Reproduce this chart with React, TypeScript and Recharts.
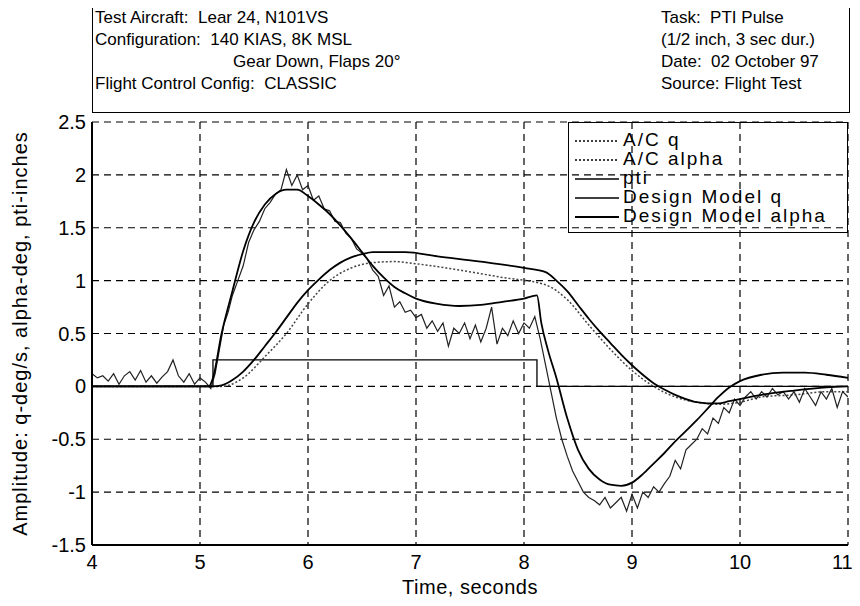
import { LineChart, Line, XAxis, YAxis, CartesianGrid } from 'recharts'

const xTicks = [4, 5, 6, 7, 8, 9, 10, 11]
const yTicks = [-1.5, -1, -0.5, 0, 0.5, 1, 1.5, 2, 2.5]

// measured pitch rate (noisy), [time, value]
const acQ: [number, number][] = [
  [4.0, 0.12], [4.05, 0.08], [4.1, 0.1], [4.15, 0.05], [4.2, 0.12], [4.25, 0.02], [4.3, 0.1], [4.35, 0.14],
  [4.4, 0.06], [4.45, 0.15], [4.5, 0.04], [4.55, 0.1], [4.6, 0.03], [4.65, 0.09], [4.7, 0.14], [4.75, 0.25],
  [4.8, 0.1], [4.85, 0.04], [4.9, 0.12], [4.95, 0.02], [5.0, 0.08], [5.05, 0.04], [5.1, -0.02],
  [5.14, 0.12], [5.18, 0.35], [5.22, 0.58], [5.26, 0.7], [5.3, 0.86], [5.35, 1.0], [5.4, 1.14], [5.45, 1.36],
  [5.5, 1.48], [5.55, 1.56], [5.6, 1.68], [5.65, 1.74], [5.7, 1.82], [5.75, 1.86], [5.8, 2.05], [5.85, 1.9],
  [5.9, 2.0], [5.95, 1.86], [6.0, 1.9], [6.05, 1.76], [6.1, 1.8], [6.15, 1.68], [6.2, 1.66], [6.25, 1.56],
  [6.3, 1.55], [6.35, 1.45], [6.4, 1.4], [6.45, 1.3], [6.5, 1.26], [6.55, 1.2], [6.6, 1.1], [6.65, 1.04],
  [6.7, 0.86], [6.75, 0.95], [6.8, 0.75], [6.85, 0.8], [6.9, 0.7], [6.95, 0.72], [7.0, 0.65], [7.05, 0.68],
  [7.1, 0.55], [7.15, 0.62], [7.2, 0.52], [7.25, 0.6], [7.3, 0.38], [7.35, 0.55], [7.4, 0.5], [7.45, 0.6],
  [7.5, 0.45], [7.55, 0.58], [7.6, 0.42], [7.65, 0.55], [7.7, 0.75], [7.75, 0.4], [7.8, 0.55], [7.85, 0.48],
  [7.9, 0.62], [7.95, 0.5], [8.0, 0.6], [8.05, 0.55], [8.1, 0.66], [8.15, 0.45], [8.2, 0.2], [8.25, -0.05],
  [8.3, -0.3], [8.35, -0.5], [8.4, -0.66], [8.45, -0.8], [8.5, -0.9], [8.55, -1.0], [8.6, -1.05], [8.65, -1.08],
  [8.7, -1.12], [8.75, -1.05], [8.8, -1.15], [8.85, -1.1], [8.9, -1.05], [8.95, -1.18], [9.0, -1.02],
  [9.05, -1.15], [9.1, -1.0], [9.15, -1.05], [9.2, -0.95], [9.25, -1.0], [9.3, -0.92], [9.35, -0.85],
  [9.4, -0.7], [9.45, -0.78], [9.5, -0.6], [9.55, -0.55], [9.6, -0.5], [9.65, -0.4], [9.7, -0.45], [9.75, -0.3],
  [9.8, -0.35], [9.85, -0.2], [9.9, -0.25], [9.95, -0.12], [10.0, -0.18], [10.05, -0.1], [10.1, -0.05],
  [10.15, -0.12], [10.2, -0.05], [10.25, -0.1], [10.3, -0.02], [10.35, -0.08], [10.4, -0.05], [10.45, -0.12],
  [10.5, -0.05], [10.55, -0.15], [10.6, -0.02], [10.65, -0.1], [10.7, -0.18], [10.75, -0.05], [10.8, -0.12],
  [10.85, -0.02], [10.9, -0.2], [10.95, -0.05], [11.0, -0.1],
]

// measured angle of attack
const acAlpha: [number, number][] = [
  [4.0, 0], [5.2, 0], [5.4, 0.08], [5.6, 0.28], [5.8, 0.5], [6.0, 0.78], [6.2, 1.0], [6.4, 1.12],
  [6.6, 1.17], [6.8, 1.18], [7.0, 1.16], [7.4, 1.1], [7.8, 1.03], [8.2, 0.96], [8.4, 0.82], [8.6, 0.58],
  [8.8, 0.35], [9.0, 0.15], [9.2, 0.0], [9.4, -0.1], [9.6, -0.15], [9.8, -0.17], [10.0, -0.15],
  [10.2, -0.1], [10.5, -0.08], [10.8, -0.05], [11.0, -0.05],
]

const pti: [number, number][] = [
  [4.0, 0], [5.12, 0], [5.12, 0.25], [8.12, 0.25], [8.12, 0], [11.0, 0],
]

const modelQ: [number, number][] = [
  [4.0, 0], [5.08, 0], [5.12, 0.08], [5.2, 0.5], [5.3, 0.9], [5.4, 1.28], [5.5, 1.55], [5.6, 1.72],
  [5.7, 1.82], [5.8, 1.86], [5.9, 1.86], [6.0, 1.8], [6.1, 1.72], [6.2, 1.63], [6.3, 1.52], [6.4, 1.4],
  [6.5, 1.27], [6.6, 1.14], [6.7, 1.03], [6.8, 0.94], [6.9, 0.88], [7.0, 0.83], [7.2, 0.78], [7.4, 0.76],
  [7.6, 0.77], [7.8, 0.8], [8.0, 0.83], [8.12, 0.86], [8.16, 0.6], [8.22, 0.35], [8.3, 0.08], [8.4, -0.3],
  [8.5, -0.6], [8.6, -0.78], [8.7, -0.88], [8.8, -0.93], [8.9, -0.94], [9.0, -0.91], [9.1, -0.83],
  [9.2, -0.73], [9.3, -0.63], [9.4, -0.52], [9.5, -0.42], [9.6, -0.32], [9.7, -0.21], [9.8, -0.1],
  [9.9, -0.01], [10.0, 0.05], [10.2, 0.11], [10.4, 0.13], [10.6, 0.13], [10.8, 0.11], [11.0, 0.08],
]

const modelAlpha: [number, number][] = [
  [4.0, 0], [5.12, 0], [5.2, 0.01], [5.3, 0.06], [5.4, 0.14], [5.5, 0.25], [5.6, 0.38], [5.7, 0.51],
  [5.8, 0.65], [5.9, 0.79], [6.0, 0.91], [6.1, 1.01], [6.2, 1.1], [6.3, 1.17], [6.4, 1.22], [6.5, 1.25],
  [6.6, 1.27], [6.9, 1.27], [7.2, 1.23], [7.6, 1.18], [8.0, 1.12], [8.2, 1.08], [8.3, 1.0], [8.4, 0.9],
  [8.5, 0.77], [8.6, 0.64], [8.7, 0.52], [8.8, 0.41], [8.9, 0.3], [9.0, 0.2], [9.1, 0.11], [9.2, 0.03],
  [9.3, -0.03], [9.4, -0.08], [9.5, -0.12], [9.6, -0.15], [9.7, -0.16], [9.8, -0.16], [9.9, -0.14],
  [10.0, -0.12], [10.2, -0.08], [10.5, -0.04], [10.8, -0.01], [11.0, 0],
]

const headerLeft = ['Test Aircraft:  Lear 24, N101VS', 'Configuration:  140 KIAS, 8K MSL', 'Gear Down, Flaps 20°', 'Flight Control Config:  CLASSIC']
const headerRight = ['Task:  PTI Pulse', '(1/2 inch, 3 sec dur.)', 'Date:  02 October 97', 'Source: Flight Test']

const legendNames = ['A/C q', 'A/C alpha', 'pti', 'Design Model q', 'Design Model alpha']
const legendDash = ['2 2', '2 2', '', '', '']

const font = '"Liberation Sans", Arial, sans-serif'

const toRows = (pts: [number, number][]) => pts.map(([t, v]) => ({ t, v }))

const YLabel = ({ viewBox }: any) => {
  const x = 12
  const y = viewBox.y + viewBox.height / 2
  return (
    <text x={x} y={y} transform={`rotate(-90, ${x}, ${y})`} textAnchor="middle" dominantBaseline="central"
      fontSize={20} letterSpacing={1} fontFamily={font} fill="#000">
      Amplitude: q-deg/s, alpha-deg, pti-inches
    </text>
  )
}

export default function App() {
  return (
    <div style={{ position: 'relative', width: 844, height: 590, fontFamily: font }}>
      <div style={{
        position: 'absolute', left: 84, top: -3, width: 758, height: 108, border: '1.5px solid #000',
        boxSizing: 'border-box', fontSize: 17, lineHeight: '22px', color: '#000',
      }}>
        <div style={{ position: 'absolute', left: 2, top: 1 }}>
          {headerLeft.map((s, i) => (
            <div key={s} style={{ paddingLeft: i === 2 ? 138 : 0, whiteSpace: 'pre' }}>{s}</div>
          ))}
        </div>
        <div style={{ position: 'absolute', left: 568, top: 1 }}>
          {headerRight.map(s => (
            <div key={s} style={{ whiteSpace: 'pre' }}>{s}</div>
          ))}
        </div>
      </div>

      <LineChart width={844} height={590} margin={{ top: 114, right: 4, left: 0, bottom: 3 }}>
        <CartesianGrid stroke="#000" strokeWidth={1.2} strokeDasharray="7 5" />
        <XAxis
          dataKey="t" type="number" domain={[4, 11]} ticks={xTicks} allowDataOverflow
          height={50} tickSize={4} tickMargin={6} tickLine={false}
          axisLine={{ stroke: '#000', strokeWidth: 2 }}
          tick={{ fontSize: 20, fill: '#000', fontFamily: font }}
          label={{ value: 'Time, seconds', position: 'insideBottom', offset: 1, fontSize: 20, fill: '#000', letterSpacing: 0.5, fontFamily: font }}
        />
        <YAxis
          type="number" domain={[-1.5, 2.5]} ticks={yTicks} allowDataOverflow
          width={84} tickSize={4} tickMargin={2} tickLine={false}
          axisLine={{ stroke: '#000', strokeWidth: 2 }}
          tick={{ fontSize: 20, fill: '#000', fontFamily: font }}
          label={{ content: YLabel }}
        />
        <Line data={toRows(pti)} dataKey="v" type="linear" stroke="#000" strokeWidth={1.3} dot={false} isAnimationActive={false} />
        <Line data={toRows(acAlpha)} dataKey="v" type="monotone" stroke="#444" strokeWidth={1.5} strokeDasharray="2 2" dot={false} isAnimationActive={false} />
        <Line data={toRows(acQ)} dataKey="v" type="linear" stroke="#222" strokeWidth={1.2} dot={false} isAnimationActive={false} />
        <Line data={toRows(modelAlpha)} dataKey="v" type="monotone" stroke="#000" strokeWidth={1.8} dot={false} isAnimationActive={false} />
        <Line data={toRows(modelQ)} dataKey="v" type="monotone" stroke="#000" strokeWidth={1.8} dot={false} isAnimationActive={false} />
      </LineChart>

      <div style={{
        position: 'absolute', left: 560, top: 114, width: 280, height: 111, border: '1.5px solid #000',
        boxSizing: 'border-box', paddingTop: 7, fontSize: 19, lineHeight: '19px', color: '#000',
      }}>
        {legendNames.map((name, i) => (
          <div key={name} style={{ display: 'flex', alignItems: 'center', height: 19 }}>
            <svg width={54} height={19} style={{ flex: 'none' }}>
              <line x1={6} x2={50} y1={11} y2={11} stroke="#000" strokeWidth={i === 4 ? 2 : 1.5}
                strokeDasharray={legendDash[i] || undefined} />
            </svg>
            <span style={{ whiteSpace: 'pre', letterSpacing: 2 }}>{name}</span>
          </div>
        ))}
      </div>
    </div>
  )
}
